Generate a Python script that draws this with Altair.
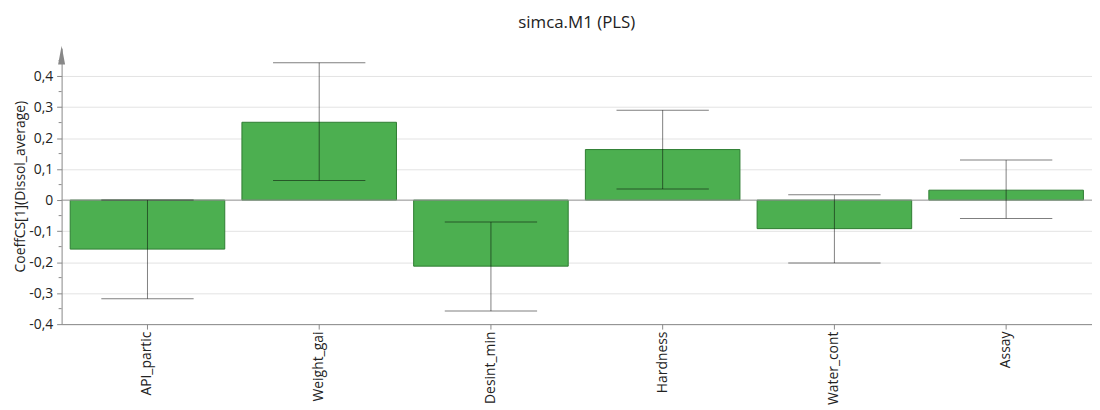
import altair as alt
import pandas as pd

variables = ["API_partic", "Weight_gai", "Desint_min", "Hardness", "Water_cont", "Assay"]
coeffs = [-0.158, 0.251, -0.213, 0.163, -0.092, 0.032]
err_low = [-0.318, 0.063, -0.358, 0.036, -0.203, -0.059]
err_high = [0.0, 0.443, -0.071, 0.290, 0.017, 0.129]

major_ticks = [-0.4, -0.3, -0.2, -0.1, 0.0, 0.1, 0.2, 0.3, 0.4]
minor_ticks = [-0.35, -0.25, -0.15, -0.05, 0.05, 0.15, 0.25, 0.35, 0.45]

df = pd.DataFrame({"var": variables, "coef": coeffs, "lo": err_low, "hi": err_high})
minor_df = pd.DataFrame({"v": minor_ticks})

FONT = "Open Sans"
ydom = [-0.4, 0.49]
YTITLE = "CoeffCS[1](Dissol_average)"

xaxis = alt.Axis(labelAngle=-90, labelAlign="right", labelBaseline="middle",
                 labelFontSize=14, labelColor="#222", labelFont=FONT,
                 labelPadding=2, tickSize=5, tickColor="#888",
                 domainColor="#888", grid=False, labelOverlap=False,
                 labelLimit=200)
xscale = alt.Scale(paddingInner=0.1, paddingOuter=0.05)

label_expr = ("datum.value == 0 ? '0' : (datum.value < 0 ? '-' : '') + "
              "replace(format(abs(datum.value), '.1f'), '.', ',')")

yaxis = alt.Axis(values=major_ticks, labelExpr=label_expr, labelFontSize=14,
                 labelColor="#222", labelFont=FONT, tickSize=5, tickColor="#888",
                 domainColor="#888", gridColor="#e3e3e3", grid=True,
                 labelOverlap=False, labelPadding=4,
                 titleFont=FONT, titleFontSize=14, titleFontWeight="normal",
                 titleColor="#222", titlePadding=1)
yscale = alt.Scale(domain=ydom, nice=False, zero=False)


def X():
    return alt.X("var:N", sort=variables, title=None, scale=xscale, axis=xaxis)


def Y(field):
    return alt.Y(field, scale=yscale, title=YTITLE, axis=yaxis)


bars = alt.Chart(df).mark_bar(color="#4caf50", stroke="#2e7d32", strokeWidth=1).encode(
    x=X(), y=Y("coef:Q"),
)

zero_rule = alt.Chart(pd.DataFrame({"z": [0.0]})).mark_rule(color="#999", strokeWidth=1).encode(
    y=Y("z:Q")
)

err_rule = alt.Chart(df).mark_rule(color="black", opacity=0.5, strokeWidth=1).encode(
    x=X(), y=Y("lo:Q"), y2="hi:Q",
)
err_lo = alt.Chart(df).mark_tick(color="black", opacity=0.5, thickness=1, size=93).encode(
    x=X(), y=Y("lo:Q")
)
err_hi = alt.Chart(df).mark_tick(color="black", opacity=0.5, thickness=1, size=93).encode(
    x=X(), y=Y("hi:Q")
)

minor = alt.Chart(minor_df).mark_rule(color="#888", strokeWidth=1).encode(
    y=Y("v:Q"),
    x=alt.value(-3), x2=alt.value(0),
)

arrow = alt.Chart(pd.DataFrame({"a": [0]})).mark_point(
    shape="M-0.37,1 L0,-1 L0.37,1 Z", filled=True, color="#888", opacity=1, size=361
).encode(x=alt.value(0), y=alt.value(7))

chart = alt.layer(bars, zero_rule, err_rule, err_lo, err_hi, minor, arrow).properties(
    width=1038, height=278,
    title=alt.TitleParams("simca.M1 (PLS)", fontSize=17, font=FONT, fontWeight="normal",
                          color="#222", offset=14, anchor="middle"),
    autosize=alt.AutoSizeParams(type="none"),
    padding={"left": 54, "top": 39, "right": 0, "bottom": 80},
).configure_view(stroke=None)

chart.save("out.html", embed_options={"renderer": "svg", "actions": False})
